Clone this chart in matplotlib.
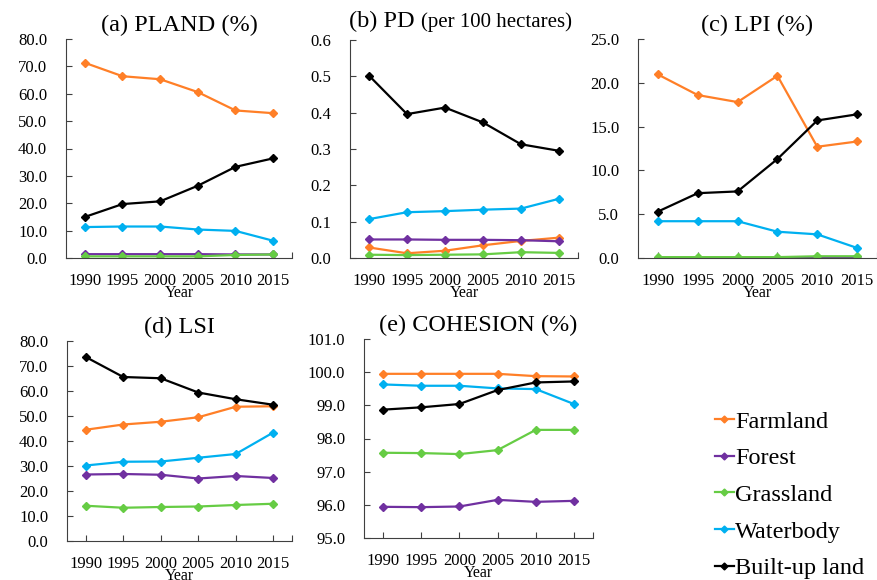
import matplotlib
matplotlib.use("Agg")
import matplotlib.pyplot as plt
from matplotlib.lines import Line2D
from matplotlib.ticker import FormatStrFormatter, FixedLocator

plt.rcParams['font.family'] = ['Liberation Serif', 'DejaVu Serif']

years = ["1990", "1995", "2000", "2005", "2010", "2015"]
classes = ["Farmland", "Forest", "Grassland", "Waterbody", "Built-up land"]
colors = ["#ff7f27", "#7030a0", "#66cc44", "#00b0f0", "#000000"]

pland = {
    "Farmland": [71.3, 66.4, 65.3, 60.6, 53.9, 52.9],
    "Forest": [1.4, 1.4, 1.4, 1.4, 1.3, 1.3],
    "Grassland": [0.6, 0.6, 0.6, 0.6, 1.1, 1.3],
    "Waterbody": [11.3, 11.5, 11.5, 10.4, 9.9, 6.3],
    "Built-up land": [15.0, 19.7, 20.7, 26.4, 33.3, 36.4],
}
pd_ = {
    "Farmland": [0.029, 0.013, 0.020, 0.035, 0.047, 0.056],
    "Forest": [0.051, 0.051, 0.050, 0.050, 0.049, 0.046],
    "Grassland": [0.009, 0.008, 0.009, 0.010, 0.016, 0.014],
    "Waterbody": [0.107, 0.126, 0.129, 0.133, 0.136, 0.163],
    "Built-up land": [0.502, 0.396, 0.414, 0.373, 0.313, 0.295],
}
lpi = {
    "Farmland": [20.95, 18.6, 17.8, 20.8, 12.7, 13.3],
    "Forest": [0.05, 0.05, 0.05, 0.05, 0.03, 0.02],
    "Grassland": [0.1, 0.1, 0.1, 0.1, 0.2, 0.2],
    "Waterbody": [4.2, 4.2, 4.2, 3.0, 2.7, 1.15],
    "Built-up land": [5.3, 7.4, 7.6, 11.3, 15.7, 16.4],
}
lsi = {
    "Farmland": [44.5, 46.6, 47.7, 49.5, 53.7, 53.9],
    "Forest": [26.6, 26.8, 26.5, 25.0, 26.0, 25.2],
    "Grassland": [14.1, 13.3, 13.6, 13.8, 14.4, 14.9],
    "Waterbody": [30.2, 31.7, 31.8, 33.3, 34.8, 43.4],
    "Built-up land": [73.6, 65.6, 65.1, 59.4, 56.7, 54.5],
}
cohesion = {
    "Farmland": [99.95, 99.95, 99.95, 99.95, 99.88, 99.87],
    "Forest": [95.94, 95.93, 95.95, 96.15, 96.09, 96.12],
    "Grassland": [97.57, 97.56, 97.53, 97.65, 98.26, 98.26],
    "Waterbody": [99.63, 99.59, 99.59, 99.51, 99.49, 99.04],
    "Built-up land": [98.87, 98.94, 99.04, 99.46, 99.69, 99.72],
}

W, H = 878, 580
fig = plt.figure(figsize=(W / 100, H / 100), dpi=100)


def add_ax(left, top, right, bottom):
    return fig.add_axes([left / W, 1 - bottom / H, (right - left) / W, (bottom - top) / H])


def draw(ax, data, ylim, step, title=None):
    x = range(len(years))
    for name, c in zip(classes, colors):
        ax.plot(x, data[name], color=c, lw=1.6, marker="D", ms=4.2, mec=c, mfc=c)
    ax.set_xlim(-0.5, len(years) - 0.5)
    ax.set_ylim(*ylim)
    ticks = []
    v = ylim[0]
    while v <= ylim[1] + 1e-9:
        ticks.append(v)
        v += step
    ax.set_yticks(ticks)
    ax.yaxis.set_major_formatter(FormatStrFormatter("%.1f"))
    ax.set_xticks(list(x))
    ax.set_xticklabels(years)
    ax.xaxis.set_minor_locator(FixedLocator([len(years) - 0.5]))
    ax.tick_params(axis="y", labelsize=12, direction="in", length=4.3, width=0.8, color="#404040", pad=13.5)
    ax.tick_params(axis="x", which="both", labelsize=12, direction="in", length=4.3, width=0.8,
                   color="#404040", pad=10.5)
    for s in ["top", "right"]:
        ax.spines[s].set_visible(False)
    for s in ["left", "bottom"]:
        ax.spines[s].set_color("#404040")
        ax.spines[s].set_linewidth(0.8)
    ax.set_xlabel("Year", fontsize=11.5, labelpad=-2.5)
    if title:
        ax.set_title(title, fontsize=17.5, pad=6)


ax_a = add_ax(66, 39, 292, 258)
draw(ax_a, pland, (0, 80), 10, "(a) PLAND (%)")

ax_b = add_ax(350, 40, 578, 258)
draw(ax_b, pd_, (0, 0.6), 0.1)
ax_b.text(0.31, 1.035, "(b) PD ", transform=ax_b.transAxes, ha="right", va="bottom", fontsize=17.5)
ax_b.text(0.31, 1.035, "(per 100 hectares)", transform=ax_b.transAxes, ha="left", va="bottom", fontsize=15)

ax_c = add_ax(638, 39, 877, 258)
draw(ax_c, lpi, (0, 25), 5, "(c) LPI (%)")

ax_d = add_ax(67, 341, 292, 541)
draw(ax_d, lsi, (0, 80), 10, "(d) LSI")

ax_e = add_ax(364, 339, 593, 538)
draw(ax_e, cohesion, (95, 101), 1, "(e) COHESION (%)")

handles = [Line2D([0], [0], color=c, lw=1.6, marker="D", ms=3.5, mec=c, mfc=c) for c in colors]
fig.legend(handles, classes, loc="upper left", bbox_to_anchor=(705 / W, 1 - 401 / H),
           frameon=False, fontsize=17.5, handlelength=0.8, handletextpad=0.05,
           labelspacing=0.6, borderaxespad=0)

fig.savefig("out.png", dpi=100)
